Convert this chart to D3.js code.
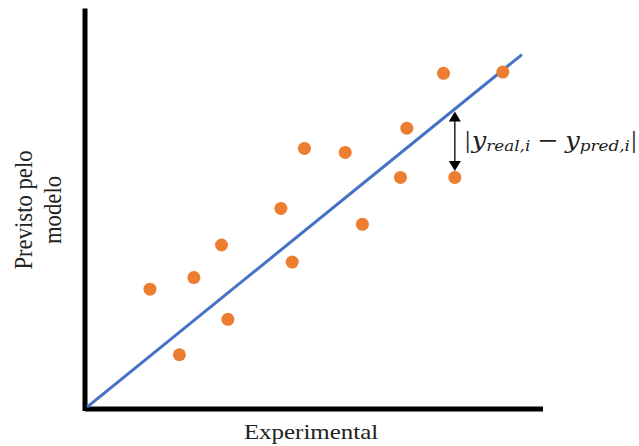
<!DOCTYPE html>
<html>
<head>
<meta charset="utf-8">
<script src="https://cdn.jsdelivr.net/npm/d3@7"></script>
<style>
  html, body { margin: 0; padding: 0; background: #fff; }
  svg { display: block; }
</style>
</head>
<body>
<svg id="chart" width="639" height="446"></svg>
<script>
// Experimental vs. model-predicted values (arbitrary units, 0–100)
const experimental = [13.9, 20.4, 23.6, 29.7, 31.1, 42.8, 45.3, 48.0, 57.0, 60.8, 69.2, 70.6, 78.7, 81.2, 91.8];
const predicted    = [29.9, 13.4, 32.8, 41.0, 22.3, 50.2, 36.7, 65.3, 64.3, 46.2, 58.0, 70.4, 84.2, 58.0, 84.5];

// Fitted line endpoints
const fitX = [0, 96.0];
const fitY = [0.2, 88.9];

// Index of the point whose residual is highlighted
const highlighted = 13;

const xTitle = "Experimental";
const yTitleLines = ["Previsto pelo", "modelo"];

const svg = d3.select("#chart");

const x = d3.scaleLinear().domain([0, 100]).range([87, 540]);
const y = d3.scaleLinear().domain([0, 100]).range([408, 10.5]);

// Axes: heavy black lines, no ticks
const axisStyle = g => {
  g.selectAll(".tick").remove();
  g.select(".domain")
    .attr("stroke", "#000")
    .attr("stroke-width", 5)
    .attr("stroke-linecap", "square");
};

svg.append("g")
  .attr("transform", "translate(0,408.5)")
  .call(d3.axisBottom(x).tickValues([]).tickSizeOuter(0))
  .call(axisStyle);

svg.append("g")
  .attr("transform", "translate(84.5,0)")
  .call(d3.axisLeft(y).tickValues([]).tickSizeOuter(0))
  .call(axisStyle);

// Fitted line
const line = d3.line().x(d => x(d[0])).y(d => y(d[1]));
svg.append("path")
  .datum(d3.zip(fitX, fitY))
  .attr("d", line)
  .attr("fill", "none")
  .attr("stroke", "#4472C4")
  .attr("stroke-width", 3);

// Points
const r = 6.5;
svg.append("g")
  .selectAll("circle")
  .data(d3.zip(experimental, predicted))
  .join("circle")
  .attr("cx", d => x(d[0]))
  .attr("cy", d => y(d[1]))
  .attr("r", r)
  .attr("fill", "#ED7D31");

// Residual arrow between the fitted line and the highlighted point
const hx = experimental[highlighted];
const fitAt = v => fitY[0] + (v - fitX[0]) * (fitY[1] - fitY[0]) / (fitX[1] - fitX[0]);
const ax = x(hx);
const yTop = y(fitAt(hx)) + 2.5;
const yBot = y(predicted[highlighted]) - r;
const headW = 6, headH = 10;

const arrow = svg.append("g");
arrow.append("line")
  .attr("x1", ax).attr("x2", ax)
  .attr("y1", yTop + headH - 1).attr("y2", yBot - headH + 1)
  .attr("stroke", "#000").attr("stroke-width", 1.3);
arrow.append("path")
  .attr("d", `M${ax},${yTop}L${ax - headW},${yTop + headH}L${ax + headW},${yTop + headH}Z`)
  .attr("fill", "#000");
arrow.append("path")
  .attr("d", `M${ax},${yBot}L${ax - headW},${yBot - headH}L${ax + headW},${yBot - headH}Z`)
  .attr("fill", "#000");

// Residual label |y_real,i − y_pred,i|, widened to span the space right of the arrow
const lblG = svg.append("g");
const lbl = lblG.append("text")
  .attr("x", 0)
  .attr("y", 0)
  .attr("font-family", "'DejaVu Serif', 'Liberation Serif', serif")
  .attr("font-size", 23)
  .attr("fill", "#222");
lbl.append("tspan").attr("font-family", "'Liberation Serif', serif").attr("font-size", 26).text("|");
lbl.append("tspan").attr("font-style", "italic").attr("dx", 1).text("y");
lbl.append("tspan").attr("font-style", "italic").attr("font-size", 15).attr("dy", 3).text("real,i");
lbl.append("tspan").attr("dy", -3).attr("dx", 6).text("−");
lbl.append("tspan").attr("font-style", "italic").attr("dx", 6).text("y");
lbl.append("tspan").attr("font-style", "italic").attr("font-size", 15).attr("dy", 3).text("pred,i");
lbl.append("tspan").attr("font-family", "'Liberation Serif', serif").attr("font-size", 26).attr("dy", -3).attr("dx", 1).text("|");
const lblW = lbl.node().getBBox().width;
const lblLeft = ax + 10, lblRight = 637;
lblG.attr("transform", `translate(${lblLeft},148) scale(${(lblRight - lblLeft) / lblW},1)`);

// Axis titles (glyphs slightly widened horizontally)
svg.append("text")
  .attr("transform", "translate(311,439) scale(1.16,1)")
  .attr("text-anchor", "middle")
  .attr("font-family", "'Liberation Serif', serif")
  .attr("font-size", 21.5)
  .attr("fill", "#222")
  .text(xTitle);

const yt = svg.append("text")
  .attr("transform", "translate(32,210) scale(1.15,1) rotate(-90)")
  .attr("text-anchor", "middle")
  .attr("font-family", "'Liberation Serif', serif")
  .attr("font-size", 22.7)
  .attr("fill", "#222");
yTitleLines.forEach((t, i) => {
  yt.append("tspan").attr("x", 0).attr("y", i * 25.5).text(t);
});
</script>
</body>
</html>
